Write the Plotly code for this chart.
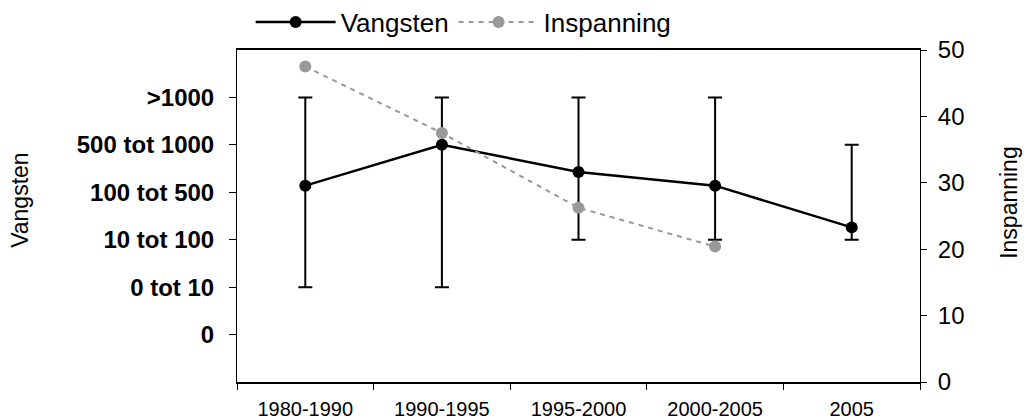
import plotly.graph_objects as go

# categories and values
periods = ["1980-1990", "1990-1995", "1995-2000", "2000-2005", "2005"]
klassen = ["0", "0 tot 10", "10 tot 100", "100 tot 500", "500 tot 1000", ">1000"]
vangsten = [3.14, 4.0, 3.43, 3.14, 2.26]
vangsten_max = [5, 5, 5, 5, 4]
vangsten_min = [1, 1, 2, 2, 2]
inspanning = [47.5, 37.5, 26.25, 20.4, None]


def main():
    fig = go.Figure()

    fig.add_trace(
        go.Scatter(
            x=periods,
            y=vangsten,
            name="Vangsten",
            mode="lines+markers",
            line=dict(width=2.5, color="#000"),
            marker=dict(size=12, color="#000"),
            error_y=dict(
                type="data",
                symmetric=False,
                array=[hi - v for hi, v in zip(vangsten_max, vangsten)],
                arrayminus=[v - lo for lo, v in zip(vangsten_min, vangsten)],
                color="#000",
                thickness=2,
                width=7
            )
        )
    )

    fig.add_trace(
        go.Scatter(
            x=periods,
            y=inspanning,
            name="Inspanning",
            yaxis="y2",
            mode="lines+markers",
            line=dict(width=2, color="#999", dash="5px,5px"),
            marker=dict(size=12, color="#999")
        )
    )

    # page body has an 8px margin, so the figure is a bit smaller than the window
    fig.update_layout(
        width=1024,
        height=412,
        font=dict(family="Liberation Sans, Arial", color="#000"),
        plot_bgcolor="#fff",
        paper_bgcolor="#fff",
        margin=dict(l=229, r=112, t=42, b=38, autoexpand=False),
        xaxis=dict(
            type="category",
            range=[-0.5, 4.5],
            showgrid=False,
            showline=True,
            linecolor="#000",
            linewidth=2,
            mirror=True,
            ticks="outside",
            tickson="boundaries",
            ticklen=6,
            tickcolor="#000",
            tickfont=dict(size=20),
            ticklabelstandoff=8
        ),
        yaxis=dict(
            range=[-1, 6],
            tickvals=list(range(len(klassen))),
            ticktext=klassen,
            showgrid=False,
            zeroline=False,
            showline=True,
            linecolor="#000",
            linewidth=1,
            ticks="outside",
            ticklen=7,
            tickcolor="#000",
            tickfont=dict(size=24, weight="bold"),
            ticklabelstandoff=10
        ),
        yaxis2=dict(
            overlaying="y",
            side="right",
            range=[0, 50],
            dtick=10,
            showgrid=False,
            zeroline=False,
            showline=True,
            linecolor="#000",
            linewidth=1,
            ticks="outside",
            ticklen=6,
            tickcolor="#000",
            tickfont=dict(size=24),
            ticklabelstandoff=6
        ),
        legend=dict(
            orientation="h",
            x=0.02,
            y=1.084,
            xanchor="left",
            yanchor="middle",
            itemwidth=80,
            bgcolor="rgba(0,0,0,0)",
            font=dict(size=26)
        ),
        annotations=[
            dict(
                text="Vangsten",
                xref="paper", yref="paper",
                x=-0.318, y=0.548,
                xanchor="center",
                textangle=-90,
                showarrow=False,
                font=dict(size=23)
            ),
            dict(
                text="Inspanning",
                xref="paper", yref="paper",
                x=1.13, y=0.542,
                xanchor="center",
                textangle=-90,
                showarrow=False,
                font=dict(size=23)
            )
        ]
    )

    fig.write_html("out.html")


if __name__ == "__main__":
    main()
